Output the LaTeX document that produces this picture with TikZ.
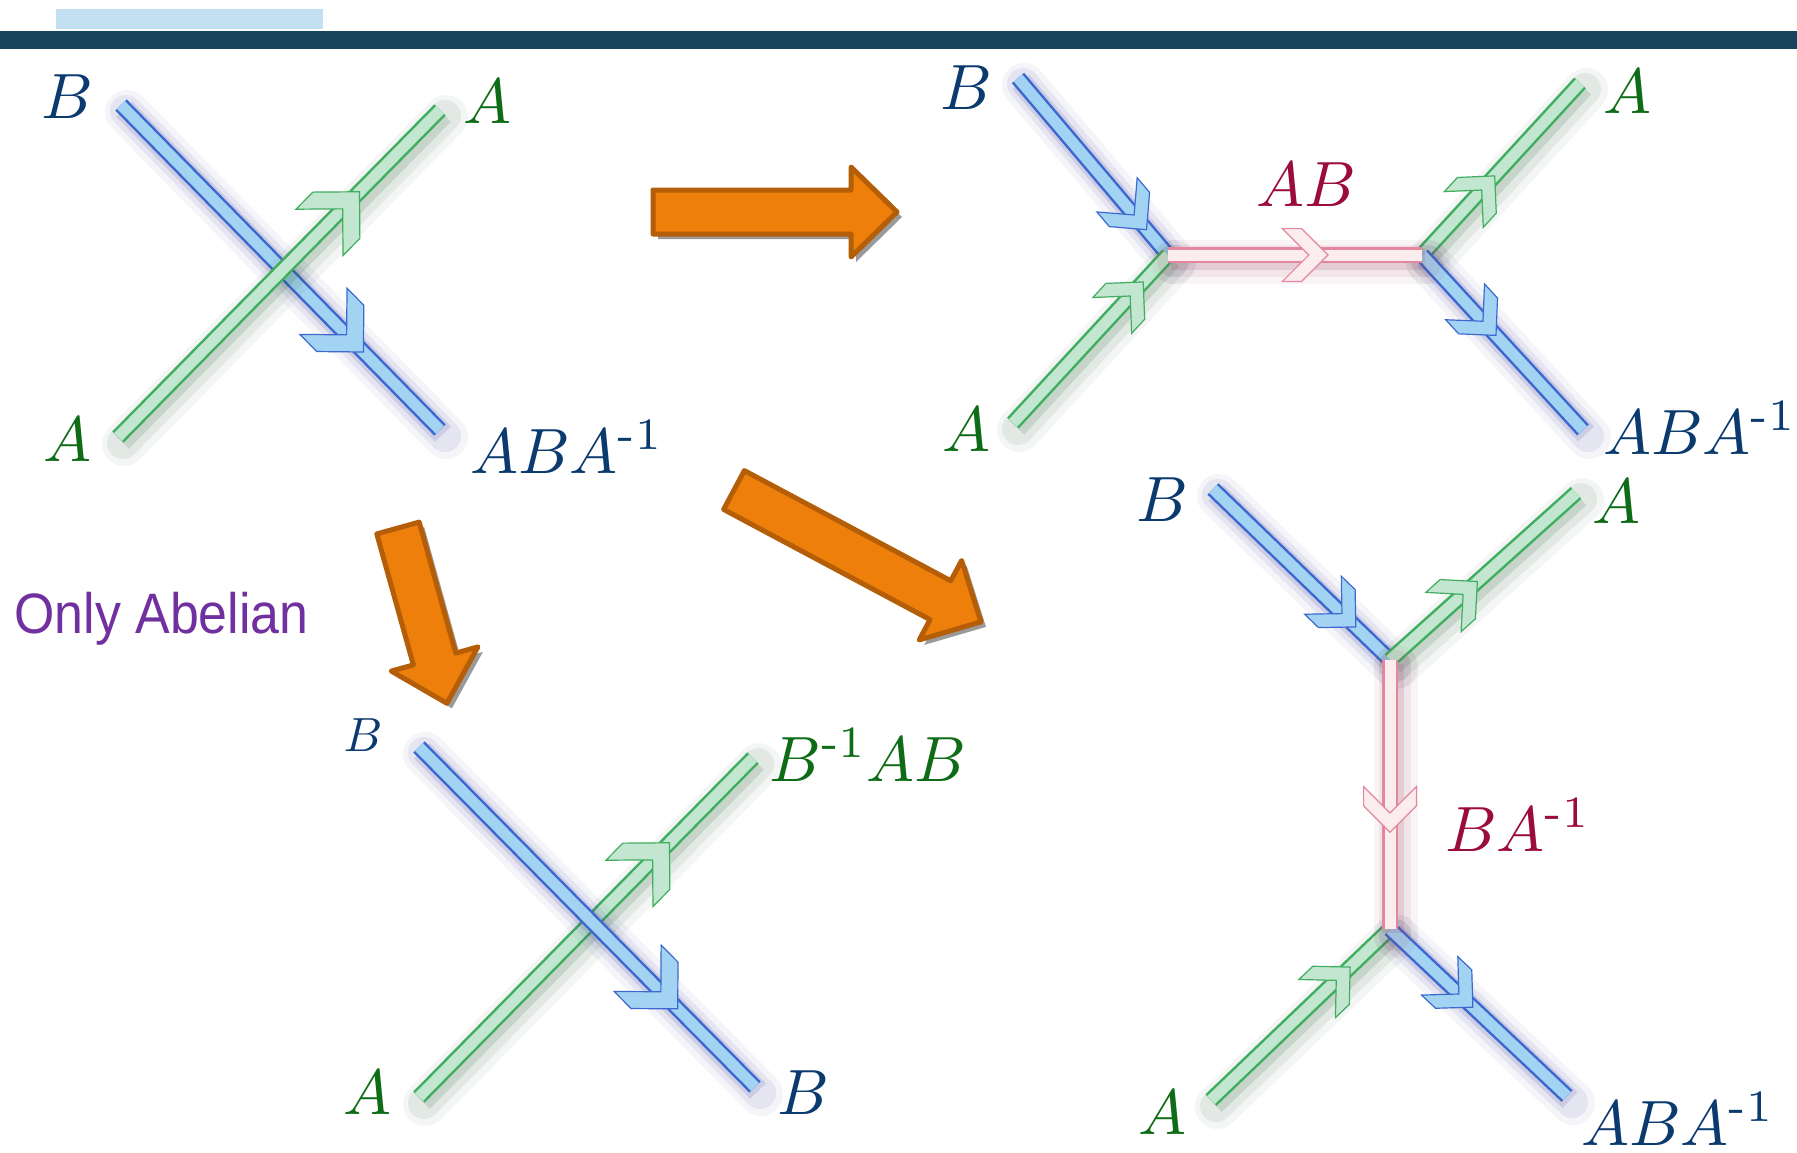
\documentclass[tikz,border=0pt]{standalone}
\usepackage{amsmath}
\usepackage{fontspec}
\newfontfamily\notefont[FakeStretch=0.91]{Liberation Sans}
\usetikzlibrary{decorations.markings}

\definecolor{barnavy}{HTML}{18455E}
\definecolor{barlight}{HTML}{C2E0F2}
\definecolor{blueedge}{HTML}{3D68D0}
\definecolor{bluelt}{HTML}{A3D3F3}
\definecolor{blueglow}{HTML}{3A3A9A}
\definecolor{greenedge}{HTML}{3FAE5E}
\definecolor{greenlt}{HTML}{C2E6CF}
\definecolor{greenglow}{HTML}{1E5A2A}
\definecolor{pinkedge}{HTML}{E4869F}
\definecolor{pinklt}{HTML}{FBEDED}
\definecolor{pinkglow}{HTML}{9A3A5A}
\definecolor{labblue}{HTML}{0B3A6E}
\definecolor{labgreen}{HTML}{0E6B16}
\definecolor{labred}{HTML}{9B0B3C}
\definecolor{notepurple}{HTML}{7030A0}
\definecolor{arroworange}{HTML}{EE7F0B}
\definecolor{arrowrim}{HTML}{B55E08}
\definecolor{arrowshade}{HTML}{9A9A9A}

% size of the chevrons on the tubes
\newcommand{\chevsz}{1}

% one glowing tube: colour, from, to, position of its chevron
\newcommand{\tube}[4]{%
  \draw[line width=22pt, draw=#1glow, opacity=0.05, line cap=round] ([shift={(6,7)}]#2) -- ([shift={(6,7)}]#3);
  \draw[line width=16pt, draw=#1glow, opacity=0.08, line cap=round] ([shift={(5,6)}]#2) -- ([shift={(5,6)}]#3);
  \draw[line width=11pt, draw=#1glow, opacity=0.14] ([shift={(3,4)}]#2) -- ([shift={(3,4)}]#3);
  \draw[line width=8pt, draw=#1edge] (#2) -- (#3);
  \draw[line width=5.5pt, draw=#1lt, postaction={decorate, decoration={markings,
      mark=at position #4 with {\filldraw[fill=#1lt, draw=#1edge, line width=0.6pt, scale=\chevsz]
        (0,0) -- (-33,-33) -- (-57,-33) -- (-24,0) -- (-57,33) -- (-33,33) -- cycle;}}}]
    (#2) -- (#3);
}

% orange block arrow: x, y, angle, length
\newcommand{\fatarrow}[4]{%
  \fill[arrowshade, shift={(#1+5,#2+5)}, rotate=#3]
    (0,-22) -- ({#4-46},-22) -- ({#4-46},-45) -- (#4,0) -- ({#4-46},45) -- ({#4-46},22) -- (0,22) -- cycle;
  \filldraw[fill=arroworange, draw=arrowrim, line width=2.5pt, line join=round, shift={(#1,#2)}, rotate=#3]
    (0,-22) -- ({#4-46},-22) -- ({#4-46},-45) -- (#4,0) -- ({#4-46},45) -- ({#4-46},22) -- (0,22) -- cycle;
}

\tikzset{
  lab/.style={font=\fontsize{10}{12}\selectfont, inner sep=0pt, scale=3.2},
  bluelab/.style={lab, text=labblue},
  greenlab/.style={lab, text=labgreen},
  redlab/.style={lab, text=labred}
}

\begin{document}
\begin{tikzpicture}[x=0.5pt, y=-0.5pt]
  \useasboundingbox (0,0) rectangle (1797,1152);
  \fill[white] (0,0) rectangle (1797,1152);

  % title bars
  \fill[barlight] (56,9) rectangle (323,29);
  \fill[barnavy] (0,31) rectangle (1797,49);

  % crossing
  \coordinate (p1b1) at (121,105);
  \coordinate (p1b2) at (440,430);
  \coordinate (p1g1) at (118,437);
  \coordinate (p1g2) at (440,110);
  \tube{blue}{p1b1}{p1b2}{0.76}
  \tube{green}{p1g1}{p1g2}{0.75}
  \node[bluelab] (b1) at (67,97) {$B$};
  \node[greenlab] (a1t) at (487,102) {$A$};
  \node[greenlab] (a1b) at (67,440) {$A$};
  \node[bluelab] (aba1) at (567,447) {$ABA^{\text{-}1}$};

  % fusion through AB
  \renewcommand{\chevsz}{0.8}
  \coordinate (p2b1) at (1018,78);
  \coordinate (p2g1) at (1013,423);
  \coordinate (p2j1) at (1168,255);
  \coordinate (p2j2) at (1422,255);
  \coordinate (p2g2) at (1580,83);
  \coordinate (p2b2) at (1583,430);
  \tube{blue}{p2b1}{p2j1}{0.86}
  \tube{green}{p2g1}{p2j1}{0.84}
  \tube{green}{p2j2}{p2g2}{0.46}
  \tube{blue}{p2j2}{p2b2}{0.46}
  \tube{pink}{p2j1}{p2j2}{0.63}
  \node[bluelab] (b2) at (966,88) {$B$};
  \node[greenlab] (a2t) at (1627,92) {$A$};
  \node[redlab] (ab2) at (1306,185) {$AB$};
  \node[greenlab] (a2b) at (966,430) {$A$};
  \node[bluelab] (aba2) at (1700,428) {$ABA^{\text{-}1}$};

  % fusion through BA^-1
  \coordinate (p3b1) at (1213,489);
  \coordinate (p3j1) at (1390,660);
  \coordinate (p3g2) at (1576,493);
  \coordinate (p3j2) at (1390,929);
  \coordinate (p3g1) at (1211,1100);
  \coordinate (p3b2) at (1567,1096);
  \tube{blue}{p3b1}{p3j1}{0.81}
  \tube{green}{p3j1}{p3g2}{0.47}
  \tube{green}{p3g1}{p3j2}{0.78}
  \tube{blue}{p3j2}{p3b2}{0.47}
  \tube{pink}{p3j1}{p3j2}{0.64}
  \node[bluelab] (b3) at (1162,500) {$B$};
  \node[greenlab] (a3t) at (1616,502) {$A$};
  \node[redlab] (ba3) at (1518,825) {$BA^{\text{-}1}$};
  \node[greenlab] (a3b) at (1162,1113) {$A$};
  \node[bluelab] (aba3) at (1678,1119) {$ABA^{\text{-}1}$};

  % blue over green
  \renewcommand{\chevsz}{1}
  \coordinate (p4b1) at (419,747);
  \coordinate (p4b2) at (755,1087);
  \coordinate (p4g1) at (419,1097);
  \coordinate (p4g2) at (753,758);
  \tube{green}{p4g1}{p4g2}{0.75}
  \tube{blue}{p4b1}{p4b2}{0.77}
  \node[bluelab, scale=0.75] (b4) at (363,735) {$B$};
  \node[greenlab] (bab4) at (868,755) {$B^{\text{-}1}AB$};
  \node[greenlab] (a4) at (367,1093) {$A$};
  \node[bluelab] (b4b) at (803,1093) {$B$};

  % moves
  \fatarrow{653}{212}{0}{244}
  \fatarrow{398}{528}{-74.4}{182}
  \fatarrow{734}{490}{-28.1}{280}

  \node[anchor=base west, inner sep=0pt, text=notepurple, font=\notefont\fontsize{28.5}{34}\selectfont]
    (note) at (14,633) {Only Abelian};
\end{tikzpicture}
\end{document}
